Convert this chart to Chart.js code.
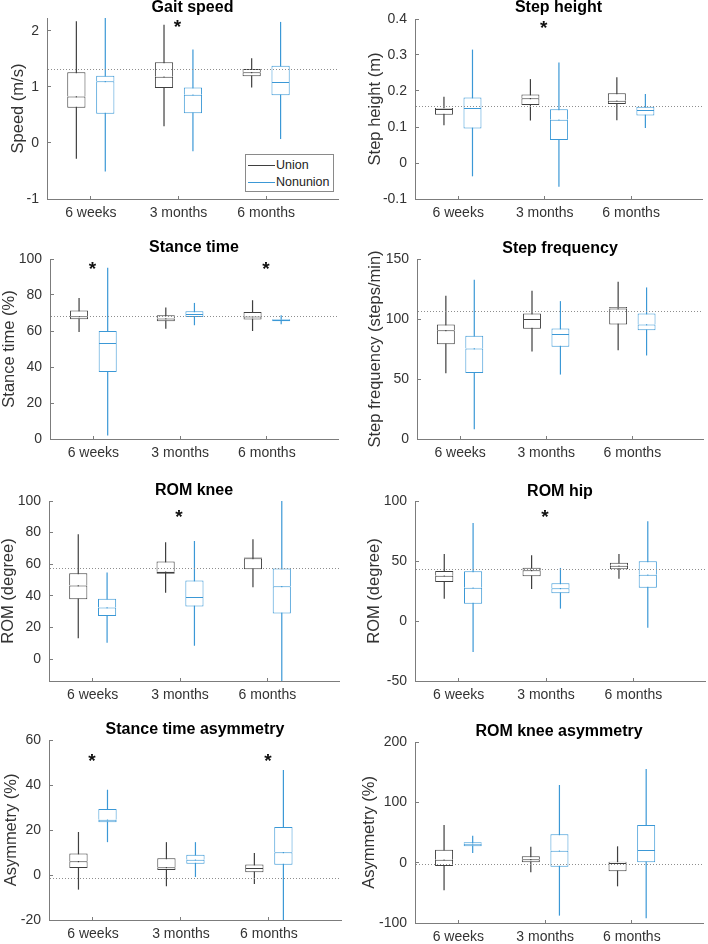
<!DOCTYPE html>
<html>
<head>
<meta charset="utf-8">
<script src="https://cdn.jsdelivr.net/npm/chart.js@4.4.1/dist/chart.umd.min.js"></script>
<style>
  html, body { margin: 0; padding: 0; background: #ffffff; }
  #wrap { position: relative; width: 708px; height: 944px; overflow: hidden; }
  .panel { position: absolute; width: 354px; height: 236px; }
  #legend { position: absolute; box-sizing: border-box; background: #fff; border: 1px solid #8a8a8a;
            font-family: 'Liberation Sans', Arial, Helvetica, sans-serif; font-size: 12.5px; color: #222; padding-top: 2px; }
  #legend .row { height: 17px; line-height: 17px; display: flex; align-items: center; white-space: nowrap; }
  #legend .swatch { width: 27px; height: 1px; margin-left: 2px; margin-right: 1px; }
</style>
</head>
<body>
<div id="wrap"></div>
<script>
// ---------------- DATA ----------------
const categories = ['6 weeks', '3 months', '6 months'];
const seriesNames = ['Union', 'Nonunion'];

// five-number summaries per category: [min, q1, median, q3, max]
const gaitSpeedUnion      = [[-0.28, 0.63, 0.83, 1.26, 2.17], [0.30, 0.98, 1.18, 1.44, 2.11], [0.99, 1.19, 1.26, 1.32, 1.51]];
const gaitSpeedNonunion   = [[-0.51, 0.52, 1.10, 1.20, 2.23], [-0.15, 0.53, 0.86, 0.99, 1.67], [0.07, 0.85, 1.09, 1.38, 2.16]];
const stepHeightUnion     = [[0.105, 0.134, 0.150, 0.153, 0.184], [0.118, 0.161, 0.180, 0.190, 0.233], [0.119, 0.164, 0.173, 0.194, 0.238]];
const stepHeightNonunion  = [[-0.037, 0.096, 0.153, 0.182, 0.315], [-0.066, 0.064, 0.120, 0.149, 0.279], [0.097, 0.132, 0.147, 0.156, 0.192]];
const stanceTimeUnion     = [[59.5, 66.5, 68.2, 71.4, 78.4], [61.3, 65.4, 66.9, 68.8, 73.0], [60.0, 66.4, 68.0, 70.6, 77.1]];
const stanceTimeNonunion  = [[2.0, 37.2, 53.3, 60.0, 95.2], [63.2, 67.8, 69.5, 71.0, 75.6], [63.8, 65.4, 66.2, 66.7, 68.8]];
const stepFreqUnion       = [[54.8, 79.0, 90.7, 95.4, 119.4], [72.9, 91.8, 99.9, 104.6, 123.5], [74.0, 95.4, 108.8, 109.9, 131.1]];
const stepFreqNonunion    = [[8.1, 55.1, 75.4, 86.0, 132.7], [53.7, 76.8, 87.4, 92.1, 114.9], [69.6, 90.7, 95.4, 104.6, 126.3]];
const romKneeUnion        = [[13.1, 37.9, 46.5, 54.3, 78.9], [41.9, 53.9, 55.2, 61.7, 73.9], [45.5, 56.8, 63.8, 64.2, 75.8]];
const romKneeNonunion     = [[10.3, 27.2, 32.6, 38.1, 54.7], [8.4, 33.3, 39.2, 49.7, 74.7], [-13.9, 28.8, 46.1, 57.3, 100.0]];
const romHipUnion         = [[18.6, 32.5, 37.8, 41.7, 55.8], [26.7, 37.2, 42.2, 44.4, 54.7], [35.3, 43.1, 46.1, 48.6, 55.8]];
const romHipNonunion      = [[-25.8, 14.4, 27.8, 41.4, 81.7], [10.3, 23.1, 27.2, 31.4, 44.2], [-5.6, 27.8, 38.6, 49.7, 83.1]];
const stanceAsymUnion     = [[-6.5, 3.1, 6.1, 9.6, 19.1], [-5.0, 2.2, 3.4, 7.4, 14.6], [-4.0, 1.2, 3.1, 4.7, 9.8]];
const stanceAsymNonunion  = [[14.6, 23.4, 24.6, 29.3, 37.9], [-0.9, 5.0, 6.8, 9.0, 14.6], [-20.3, 4.6, 10.1, 21.3, 46.7]];
const kneeAsymUnion       = [[-45.9, -5.5, 5.0, 21.5, 62.4], [-16.0, 0.0, 5.5, 10.5, 26.5], [-39.2, -14.4, -0.6, 1.7, 27.1]];
const kneeAsymNonunion    = [[16.0, 27.1, 31.5, 33.7, 44.8], [-87.8, -6.6, 19.9, 47.0, 128.7], [-92.3, 0.6, 21.0, 62.4, 155.2]];

// dotted reference levels
const referenceLevels = [1.315, 0.158, 68.2, 106.6, 57.3, 43.1, -1.5, -2.2];
// categories with a significant difference (index into categories)
const significant = [[1], [1], [0, 2], [], [1], [1], [0, 2], []];

const panelTitles = ['Gait speed', 'Step height', 'Stance time', 'Step frequency', 'ROM knee', 'ROM hip', 'Stance time asymmetry', 'ROM knee asymmetry'];
const yAxisLabels = ['Speed (m/s)', 'Step height (m)', 'Stance time (%)', 'Step frequency (steps/min)', 'ROM (degree)', 'ROM (degree)', 'Asymmetry (%)', 'Asymmetry (%)'];
const yTickValues = [[-1, 0, 1, 2], [-0.1, 0, 0.1, 0.2, 0.3, 0.4], [0, 20, 40, 60, 80, 100], [0, 50, 100, 150],
                     [0, 20, 40, 60, 80, 100], [-50, 0, 50, 100], [-20, 0, 20, 40, 60], [-100, 0, 100, 200]];
const yAxisMin = [-1, -0.1, 0, 0, -13.9, -50, -20, -100];
const yAxisMax = [2.23, 0.4, 100, 150, 100, 100, 60, 200];

const unionSeries = [gaitSpeedUnion, stepHeightUnion, stanceTimeUnion, stepFreqUnion, romKneeUnion, romHipUnion, stanceAsymUnion, kneeAsymUnion];
const nonunionSeries = [gaitSpeedNonunion, stepHeightNonunion, stanceTimeNonunion, stepFreqNonunion, romKneeNonunion, romHipNonunion, stanceAsymNonunion, kneeAsymNonunion];

// ---------------- LAYOUT / STYLE ----------------
const PW = 354, PH = 236;
// chart-area edges inside each panel and text placement (pixels)
const layouts = [
  {L: 47, T: 18, B: 199, R: 338, titleC: 7.5,  ylabC: 18.8, star: 4},
  {L: 61, T: 19, B: 199, R: 348, titleC: 7.5,  ylabC: 21,   star: 4},
  {L: 50, T: 23, B: 203, R: 338, titleC: 11.7, ylabC: 9.7,  star: 5},
  {L: 63, T: 23, B: 203, R: 349, titleC: 13,   ylabC: 21.7, star: 5},
  {L: 49, T: 29, B: 209, R: 339, titleC: 18.3, ylabC: 8.3,  star: 11},
  {L: 61, T: 29, B: 209, R: 351, titleC: 19.2, ylabC: 20,   star: 11},
  {L: 49, T: 32, B: 212, R: 341, titleC: 21.7, ylabC: 11.2, star: 16},
  {L: 61, T: 34, B: 215, R: 349, titleC: 23.7, ylabC: 15,   star: 16}
];
const FONT = "'Liberation Sans', Arial, Helvetica, sans-serif";
const UNION_COLOR = '#3f3f3f';
const NONUNION_COLOR = '#3b98d6';
const AXIS_COLOR = '#7c7c7c';
const TEXT_COLOR = '#333333';
const X_MAX = 3.82;

const wrap = document.getElementById('wrap');

function boxDatasets(summary, name, stack, color) {
  return [
    { label: name, stack, order: 0, backgroundColor: '#ffffff', borderColor: color,
      borderWidth: 1, borderSkipped: false,
      data: summary.map((s, i) => ({ x: i + 1, y: [s[1], s[2]] })) },
    { label: name, stack, order: 0, backgroundColor: '#ffffff', borderColor: color,
      borderWidth: { top: 1, left: 1, right: 1, bottom: 0 }, borderSkipped: false,
      data: summary.map((s, i) => ({ x: i + 1, y: [s[2], s[3]] })) }
  ];
}
function whiskerDataset(summary, name, stack, color) {
  return { label: name, stack, order: 1, backgroundColor: color, borderWidth: 0, maxBarThickness: 1.2,
           data: summary.map((s, i) => ({ x: i + 1, y: [s[0], s[4]] })) };
}

panelTitles.forEach((title, k) => {
  const lay = layouts[k];
  const div = document.createElement('div');
  div.className = 'panel';
  div.style.left = ((k % 2) * PW) + 'px';
  div.style.top = (Math.floor(k / 2) * PH) + 'px';
  const canvas = document.createElement('canvas');
  canvas.width = PW; canvas.height = PH;
  canvas.style.width = PW + 'px'; canvas.style.height = PH + 'px';
  div.appendChild(canvas);
  wrap.appendChild(div);

  const titlePadTop = Math.max(0, lay.titleC - 8);
  const titlePadBottom = Math.max(0, lay.T - titlePadTop - 16);
  const ylabPad = Math.max(0, lay.ylabC - 8.25);

  const extras = {
    id: 'extras' + k,
    afterDatasetsDraw(chart) {
      const { ctx, chartArea: a, scales: { x, y } } = chart;
      ctx.save();
      ctx.beginPath();
      ctx.setLineDash([1, 2]);
      ctx.strokeStyle = '#8e8e8e';
      ctx.lineWidth = 1;
      const yy = Math.round(y.getPixelForValue(referenceLevels[k])) + 0.5;
      ctx.moveTo(a.left + 1, yy);
      ctx.lineTo(a.right, yy);
      ctx.stroke();
      ctx.setLineDash([]);
      ctx.fillStyle = '#111';
      ctx.font = 'bold 19px ' + FONT;
      ctx.textAlign = 'center';
      ctx.textBaseline = 'alphabetic';
      significant[k].forEach(i => {
        ctx.fillText('*', x.getPixelForValue(i + 1) - 1, a.top + lay.star + 11);
      });
      ctx.restore();
    }
  };

  new Chart(canvas, {
    type: 'bar',
    data: {
      datasets: [
        ...boxDatasets(unionSeries[k], seriesNames[0], 'u', UNION_COLOR),
        ...boxDatasets(nonunionSeries[k], seriesNames[1], 'n', NONUNION_COLOR),
        whiskerDataset(unionSeries[k], seriesNames[0], 'u', UNION_COLOR),
        whiskerDataset(nonunionSeries[k], seriesNames[1], 'n', NONUNION_COLOR)
      ]
    },
    options: {
      responsive: false,
      animation: false,
      devicePixelRatio: 1,
      categoryPercentage: 0.66,
      barPercentage: 0.63,
      layout: { autoPadding: false, padding: { left: 0, top: 0, right: PW - lay.R, bottom: 0 } },
      plugins: {
        legend: { display: false },
        tooltip: { enabled: false },
        title: {
          display: true, text: title, fullSize: false, color: '#000',
          font: { family: FONT, size: 16, weight: 'bold', lineHeight: 1 },
          padding: { top: titlePadTop, bottom: titlePadBottom }
        }
      },
      scales: {
        x: {
          type: 'linear', min: 0.5, max: X_MAX, stacked: true, offset: false,
          afterBuildTicks: s => { s.ticks = categories.map((c, i) => ({ value: i + 1 })); },
          afterFit: s => { s.height = PH - lay.B; s.paddingLeft = 0; s.paddingRight = 0; },
          ticks: { callback: v => categories[v - 1] ?? '', color: TEXT_COLOR, font: { family: FONT, size: 14 },
                   padding: 9, maxRotation: 0, autoSkip: false },
          grid: { offset: false, drawOnChartArea: false, drawTicks: true, tickLength: -3, color: AXIS_COLOR },
          border: { display: true, color: AXIS_COLOR, width: 1 }
        },
        y: {
          type: 'linear', min: yAxisMin[k], max: yAxisMax[k], stacked: false,
          afterBuildTicks: s => { s.ticks = yTickValues[k].map(v => ({ value: v })); },
          afterFit: s => { s.width = lay.L; s.paddingTop = 0; s.paddingBottom = 0; },
          ticks: { callback: v => String(v), color: TEXT_COLOR, font: { family: FONT, size: 14 }, padding: 12 },
          grid: { offset: false, drawOnChartArea: false, drawTicks: true, tickLength: -4, color: AXIS_COLOR },
          border: { display: true, color: AXIS_COLOR, width: 1 },
          title: { display: true, text: yAxisLabels[k], color: TEXT_COLOR,
                   font: { family: FONT, size: 16.5, lineHeight: 1 }, padding: { top: ylabPad, bottom: 0 } }
        }
      }
    },
    plugins: [extras]
  });
});

// legend (inside the first panel)
const legend = document.createElement('div');
legend.id = 'legend';
legend.style.left = '245px'; legend.style.top = '154px';
legend.style.width = '89px'; legend.style.height = '38px';
[UNION_COLOR, NONUNION_COLOR].forEach((c, i) => {
  const row = document.createElement('div'); row.className = 'row';
  const sw = document.createElement('div'); sw.className = 'swatch'; sw.style.background = c;
  const tx = document.createElement('span'); tx.textContent = seriesNames[i];
  row.appendChild(sw); row.appendChild(tx); legend.appendChild(row);
});
wrap.appendChild(legend);
</script>
</body>
</html>
